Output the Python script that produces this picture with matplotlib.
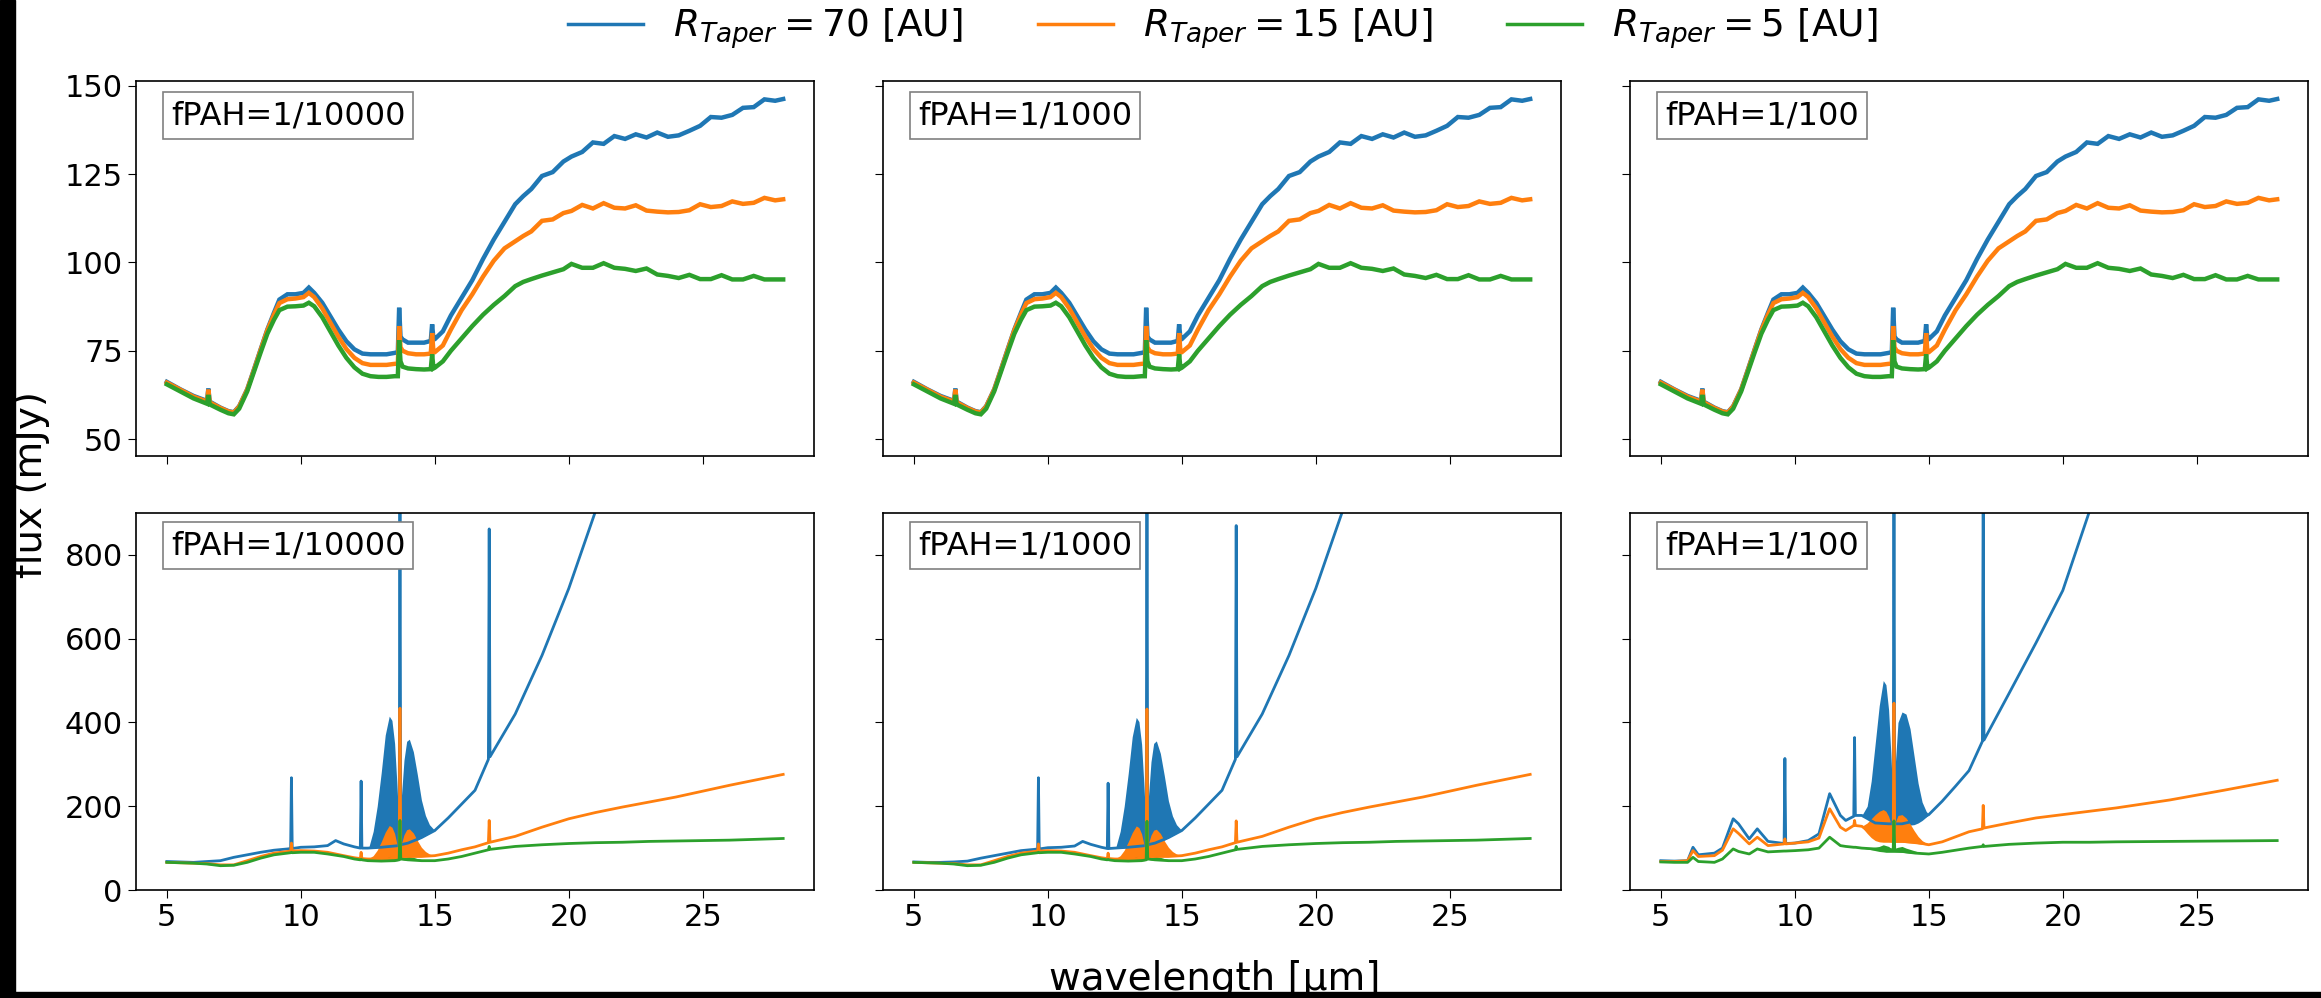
import matplotlib
matplotlib.use('Agg')
import matplotlib.pyplot as plt
from matplotlib.patches import Rectangle
from matplotlib.lines import Line2D

# ---------------- data ----------------
radius_labels = [r'$R_{Taper} = 70$ [AU]', r'$R_{Taper} = 15$ [AU]', r'$R_{Taper} = 5$ [AU]']
fpah_labels = ['fPAH=1/10000', 'fPAH=1/1000', 'fPAH=1/100']
colors = ['#1f77b4', '#ff7f0e', '#2ca02c']

# top row (same spectra in all three columns)
wl_top = [5.0, 5.5, 6.0, 6.5, 6.55, 6.6, 7.0, 7.3, 7.5, 7.7, 8.0, 8.25, 8.5, 8.75, 9.0, 9.2, 9.5, 9.8,
          10.1, 10.3, 10.5, 10.8, 11.1, 11.4, 11.7, 12.0, 12.3, 12.6, 12.9, 13.2, 13.5, 13.62, 13.67,
          13.72, 13.8, 14.0, 14.3, 14.6, 14.85, 14.9, 14.95, 15.0, 15.3, 15.6, 16.0, 16.4, 16.8, 17.2,
          17.6, 18.0, 18.3, 18.6, 19.0, 19.4, 19.8, 20.1, 20.5, 20.9, 21.3, 21.7, 22.1, 22.5, 22.9,
          23.3, 23.7, 24.1, 24.5, 24.9, 25.3, 25.7, 26.1, 26.5, 26.9, 27.3, 27.7, 28.0]
top_r70 = [66.2, 64.1, 62.2, 60.8, 64.3, 60.6, 58.9, 57.9, 57.6, 59.3, 64.1, 69.7, 75.4, 81.0, 85.8,
           89.5, 91.0, 91.0, 91.4, 92.9, 91.4, 88.6, 84.8, 81.0, 77.7, 75.4, 74.2, 74.0, 74.0, 74.0,
           74.4, 74.6, 87.2, 79.0, 78.2, 77.3, 77.3, 77.3, 77.8, 82.5, 78.2, 78.3, 80.5, 85.0, 90.0,
           95.0, 101.0, 106.5, 111.5, 116.5, 118.8, 120.8, 124.5, 125.6, 128.6, 130.0, 131.3, 134.0,
           133.6, 135.8, 135.0, 136.3, 135.4, 136.8, 135.6, 136.0, 137.3, 138.7, 141.2, 141.0, 141.8,
           143.8, 144.0, 146.2, 145.8, 146.3]
top_r15 = [66.0, 64.0, 62.0, 60.6, 64.0, 60.4, 58.8, 57.8, 57.5, 59.2, 64.0, 69.5, 75.2, 80.8, 85.3,
           88.5, 89.6, 89.8, 90.2, 91.4, 90.2, 87.0, 83.0, 79.0, 75.5, 73.0, 71.5, 71.0, 71.0, 71.0,
           71.3, 71.3, 82.0, 76.0, 75.0, 74.3, 74.0, 74.0, 74.2, 80.0, 74.5, 74.6, 76.5, 81.0, 86.5,
           91.0, 96.0, 100.5, 104.0, 106.0, 107.5, 108.8, 111.8, 112.2, 114.0, 114.6, 116.3, 115.3,
           116.8, 115.5, 115.3, 116.2, 114.7, 114.4, 114.2, 114.3, 114.8, 116.5, 115.7, 116.0, 117.3,
           116.6, 116.9, 118.3, 117.6, 117.9]
top_r5 = [65.5, 63.5, 61.5, 60.0, 62.5, 59.8, 58.3, 57.3, 57.0, 58.6, 63.5, 69.0, 74.5, 79.8, 83.8,
          86.5, 87.5, 87.6, 87.8, 88.6, 87.6, 84.5, 80.5, 76.5, 73.0, 70.3, 68.5, 67.8, 67.6, 67.6,
          67.8, 67.8, 78.0, 72.0, 70.5, 70.0, 69.8, 69.7, 69.8, 74.0, 70.0, 70.2, 72.0, 75.0, 78.5,
          82.0, 85.2, 88.0, 90.5, 93.3, 94.5, 95.3, 96.3, 97.2, 98.1, 99.6, 98.5, 98.5, 99.8, 98.5,
          98.2, 97.6, 98.3, 96.6, 96.2, 95.6, 96.5, 95.3, 95.3, 96.4, 95.2, 95.2, 96.2, 95.2, 95.2, 95.2]

# bottom row, fPAH = 1/10000
wl_b1 = [5.0, 5.5, 6.0, 6.5, 7.0, 7.5, 8.0, 8.5, 9.0, 9.5, 9.62, 9.65, 9.68, 10.0, 10.5, 11.0, 11.3,
         11.6, 12.0, 12.22, 12.25, 12.28, 12.5, 13.0, 13.5, 13.67, 13.7, 13.73, 14.0, 14.5, 15.0, 15.5,
         16.0, 16.5, 17.0, 17.03, 17.06, 18.0, 19.0, 20.0, 21.0, 22.0, 23.0, 24.0, 25.0, 26.0, 27.0, 28.0]
b1_r70 = [68, 67, 66, 68, 70, 78, 84, 90, 95, 98, 99, 268, 99, 102, 103, 106, 118, 110, 103, 100, 260,
          100, 100, 102, 105, 106, 1000, 108, 112, 125, 142, 172, 205, 238, 312, 862, 318, 420, 560,
          720, 905, 1100, 1300, 1500, 1700, 1900, 2100, 2300]
b1_r15 = [66, 65, 64, 63, 60, 60, 70, 80, 88, 92, 93, 112, 93, 94, 93, 90, 86, 82, 77, 75, 90, 75, 74,
          74, 76, 78, 434, 80, 80, 80, 82, 88, 96, 103, 113, 166, 114, 128, 150, 170, 185, 198, 210,
          222, 236, 250, 263, 276]
b1_r5 = [66, 65, 64, 62, 58, 59, 66, 76, 84, 88, 89, 90, 89, 90, 90, 86, 83, 80, 74, 72, 73, 72, 70, 69,
         70, 72, 166, 74, 72, 70, 70, 74, 80, 88, 96, 104, 97, 104, 108, 111, 113, 114, 116, 117, 118,
         119, 121, 123]
band_wl_b1 = [12.55, 12.7, 12.85, 13.0, 13.15, 13.3, 13.4, 13.5, 13.58, 13.65, 13.75, 13.85, 13.95,
              14.05, 14.2, 14.35, 14.5, 14.65, 14.8, 15.0]
band_b1_r70_hi = [105, 140, 200, 280, 370, 415, 405, 350, 260, 170, 220, 310, 355, 360, 330, 275, 215, 178, 156, 142]
band_b1_r70_lo = [100, 101, 101, 102, 102, 103, 104, 105, 105, 106, 108, 109, 110, 112, 115, 119, 125, 130, 136, 142]
band_b1_r15_hi = [76, 82, 95, 115, 138, 154, 150, 135, 112, 95, 110, 132, 144, 146, 136, 118, 102, 92, 86, 82]
band_b1_r15_lo = [74, 74, 74, 74, 74, 75, 75, 76, 76, 77, 78, 78, 79, 80, 80, 80, 80, 81, 81, 82]
band_b1_r5_hi = [70, 70, 71, 72, 75, 80, 80, 77, 74, 72, 74, 77, 79, 80, 78, 75, 73, 72, 71, 70]
band_b1_r5_lo = [70, 69, 69, 69, 69, 69, 69, 70, 70, 71, 73, 72, 72, 72, 71, 71, 70, 70, 70, 70]

# bottom row, fPAH = 1/1000
wl_b2 = [5.0, 5.5, 6.0, 6.5, 7.0, 7.5, 8.0, 8.5, 9.0, 9.5, 9.62, 9.65, 9.68, 10.0, 10.5, 11.0, 11.3,
         11.6, 12.0, 12.22, 12.25, 12.28, 12.5, 13.0, 13.5, 13.67, 13.7, 13.73, 14.0, 14.5, 15.0, 15.5,
         16.0, 16.5, 17.0, 17.03, 17.06, 18.0, 19.0, 20.0, 21.0, 22.0, 23.0, 24.0, 25.0, 26.0, 27.0, 28.0]
b2_r70 = [67, 66, 66, 67, 69, 76, 82, 88, 94, 97, 98, 268, 98, 101, 102, 105, 116, 109, 102, 99, 255,
          99, 100, 102, 105, 106, 1000, 108, 112, 125, 142, 172, 205, 238, 312, 870, 318, 420, 560,
          720, 905, 1100, 1300, 1500, 1700, 1900, 2100, 2300]
b2_r15 = [66, 65, 64, 63, 60, 60, 70, 80, 88, 92, 93, 110, 93, 94, 93, 90, 86, 82, 77, 75, 88, 75, 74,
          74, 76, 78, 432, 80, 80, 80, 82, 88, 96, 103, 113, 165, 114, 128, 150, 170, 185, 198, 210,
          222, 236, 250, 263, 276]
b2_r5 = [66, 65, 64, 62, 58, 59, 66, 76, 84, 88, 89, 90, 89, 90, 90, 86, 83, 80, 74, 72, 73, 72, 70, 69,
         70, 72, 164, 74, 72, 70, 70, 74, 80, 88, 96, 104, 97, 104, 108, 111, 113, 114, 116, 117, 118,
         119, 121, 123]
band_wl_b2 = [12.55, 12.7, 12.85, 13.0, 13.15, 13.3, 13.4, 13.5, 13.58, 13.65, 13.75, 13.85, 13.95,
              14.05, 14.2, 14.35, 14.5, 14.65, 14.8, 15.0]
band_b2_r70_hi = [105, 140, 200, 278, 366, 412, 402, 348, 258, 170, 218, 306, 350, 356, 326, 272, 213, 177, 156, 142]
band_b2_r70_lo = [100, 101, 101, 102, 102, 103, 104, 105, 105, 106, 108, 109, 110, 112, 115, 119, 125, 130, 136, 142]
band_b2_r15_hi = [76, 82, 95, 115, 137, 153, 149, 134, 111, 95, 110, 131, 143, 145, 135, 117, 102, 92, 86, 82]
band_b2_r15_lo = [74, 74, 74, 74, 74, 75, 75, 76, 76, 77, 78, 78, 79, 80, 80, 80, 80, 81, 81, 82]
band_b2_r5_hi = [70, 70, 71, 72, 75, 80, 80, 77, 74, 72, 74, 77, 79, 80, 78, 75, 73, 72, 71, 70]
band_b2_r5_lo = [70, 69, 69, 69, 69, 69, 69, 70, 70, 71, 73, 72, 72, 72, 71, 71, 70, 70, 70, 70]

# bottom row, fPAH = 1/100
wl_b3 = [5.0, 5.5, 6.0, 6.2, 6.4, 7.0, 7.3, 7.7, 7.9, 8.3, 8.6, 9.0, 9.6, 9.63, 9.66, 10.0, 10.5, 10.9,
         11.3, 11.7, 11.9, 12.2, 12.23, 12.26, 12.5, 13.0, 13.5, 13.67, 13.7, 13.73, 14.0, 14.5, 15.0,
         15.5, 16.0, 16.5, 17.0, 17.03, 17.06, 18.0, 19.0, 20.0, 21.0, 22.0, 24.0, 26.0, 28.0]
b3_r70 = [70, 69, 70, 102, 84, 88, 100, 170, 158, 122, 146, 116, 111, 314, 111, 112, 118, 134, 230, 178,
          166, 176, 364, 178, 178, 160, 158, 158, 1000, 158, 158, 165, 180, 212, 248, 285, 355, 1000,
          358, 470, 590, 715, 905, 1100, 1500, 1900, 2300]
b3_r15 = [68, 68, 70, 94, 80, 82, 95, 146, 135, 110, 126, 106, 110, 122, 110, 112, 115, 124, 194, 150,
          142, 154, 166, 154, 152, 130, 118, 116, 446, 116, 116, 114, 108, 115, 127, 139, 146, 202, 148,
          160, 172, 180, 188, 196, 215, 238, 262]
b3_r5 = [67, 66, 66, 78, 68, 66, 74, 98, 92, 86, 98, 91, 93, 93, 93, 94, 96, 100, 126, 106, 104, 102,
         102, 102, 100, 98, 96, 96, 165, 94, 92, 88, 86, 90, 95, 100, 104, 108, 104, 109, 112, 114, 114,
         115, 116, 117, 118]
band_wl_b3 = [12.5, 12.7, 12.85, 13.0, 13.15, 13.3, 13.4, 13.5, 13.58, 13.65, 13.75, 13.85, 14.0, 14.15,
              14.3, 14.45, 14.6, 14.75, 14.9, 15.0]
band_b3_r70_hi = [178, 200, 260, 350, 440, 500, 490, 430, 330, 230, 300, 400, 425, 420, 385, 320, 255, 210, 188, 180]
band_b3_r70_lo = [178, 170, 162, 158, 156, 155, 155, 155, 155, 155, 155, 155, 155, 155, 155, 156, 160, 166, 174, 180]
band_b3_r15_hi = [152, 160, 170, 180, 188, 192, 188, 176, 160, 150, 162, 178, 180, 172, 158, 142, 128, 118, 112, 108]
band_b3_r15_lo = [150, 135, 125, 118, 115, 114, 114, 114, 114, 114, 114, 114, 114, 113, 112, 111, 110, 109, 108, 108]
band_b3_r5_hi = [100, 100, 101, 102, 104, 108, 106, 104, 100, 98, 100, 102, 104, 100, 97, 94, 91, 89, 87, 86]
band_b3_r5_lo = [100, 98, 96, 94, 92, 91, 90, 90, 90, 90, 90, 90, 90, 89, 88, 88, 87, 87, 86, 86]

top_yticks = [50, 75, 100, 125, 150]
bottom_yticks = [0, 200, 400, 600, 800]
x_ticks = [5, 10, 15, 20, 25]

# ---------------- figure ----------------
W, H = 2321, 998
fig = plt.figure(figsize=(W / 100, H / 100), dpi=100)
fig.patch.set_facecolor('white')

col_left = [136, 883, 1630]
col_w = 678
row_top = [(81, 456), (513, 890)]


def px_axes(x0, ytop, ybot):
    return fig.add_axes([x0 / W, 1 - ybot / H, col_w / W, (ybot - ytop) / H])


top_series = [top_r70, top_r15, top_r5]
bottom_sets = [
    (wl_b1, [b1_r70, b1_r15, b1_r5], band_wl_b1,
     [(band_b1_r70_lo, band_b1_r70_hi), (band_b1_r15_lo, band_b1_r15_hi), (band_b1_r5_lo, band_b1_r5_hi)]),
    (wl_b2, [b2_r70, b2_r15, b2_r5], band_wl_b2,
     [(band_b2_r70_lo, band_b2_r70_hi), (band_b2_r15_lo, band_b2_r15_hi), (band_b2_r5_lo, band_b2_r5_hi)]),
    (wl_b3, [b3_r70, b3_r15, b3_r5], band_wl_b3,
     [(band_b3_r70_lo, band_b3_r70_hi), (band_b3_r15_lo, band_b3_r15_hi), (band_b3_r5_lo, band_b3_r5_hi)]),
]

for c in range(3):
    ax_t = px_axes(col_left[c], *row_top[0])
    ax_b = px_axes(col_left[c], *row_top[1])
    for s, col in zip(top_series, colors):
        ax_t.plot(wl_top, s, color=col, lw=3.2, solid_joinstyle='miter')
    wl_b, series_b, band_wl, bands = bottom_sets[c]
    for s, (lo, hi), col in zip(series_b, bands, colors):
        ax_b.fill_between(band_wl, lo, hi, color=col, lw=0)
        ax_b.plot(wl_b, s, color=col, lw=2.0)

    for ax in (ax_t, ax_b):
        ax.set_xlim(3.85, 29.15)
        ax.set_xticks(x_ticks)
        ax.tick_params(labelsize=22, length=6)
        for sp in ax.spines.values():
            sp.set_linewidth(1.2)
    ax_t.set_ylim(45.2, 151.4)
    ax_t.set_yticks(top_yticks)
    ax_b.set_ylim(0, 900)
    ax_b.set_yticks(bottom_yticks)
    ax_t.tick_params(labelbottom=False)
    if c > 0:
        ax_t.tick_params(labelleft=False)
        ax_b.tick_params(labelleft=False)

    box = dict(boxstyle='square,pad=0.25', facecolor='white', edgecolor='0.5', lw=1.2)
    ax_t.text(35 / col_w, 1 - 19 / 375, fpah_labels[c], transform=ax_t.transAxes,
              ha='left', va='top', fontsize=23, bbox=box)
    ax_b.text(35 / col_w, 1 - 17 / 377, fpah_labels[c], transform=ax_b.transAxes,
              ha='left', va='top', fontsize=23, bbox=box)

handles = [Line2D([], [], color=col, lw=2.5) for col in colors]
fig.legend(handles, radius_labels, loc='center', ncol=3, frameon=False, fontsize=27,
           bbox_to_anchor=(1223 / W, 1 - 29 / H), columnspacing=2.0, handlelength=2.0)

fig.text(31 / W, 1 - 484 / H, 'flux (mJy)', rotation=90, ha='center', va='center', fontsize=28)
fig.text(1215 / W, 1 - 990 / H, 'wavelength [µm]', ha='center', va='baseline', fontsize=28)

# dark borders of the original screenshot
fig.add_artist(Rectangle((0, 0), 15 / W, 1, transform=fig.transFigure, color='black', zorder=20))
fig.add_artist(Rectangle((0, 0), 1, 6 / H, transform=fig.transFigure, color='black', zorder=20))

fig.savefig('out.png', dpi=100, facecolor='white')
